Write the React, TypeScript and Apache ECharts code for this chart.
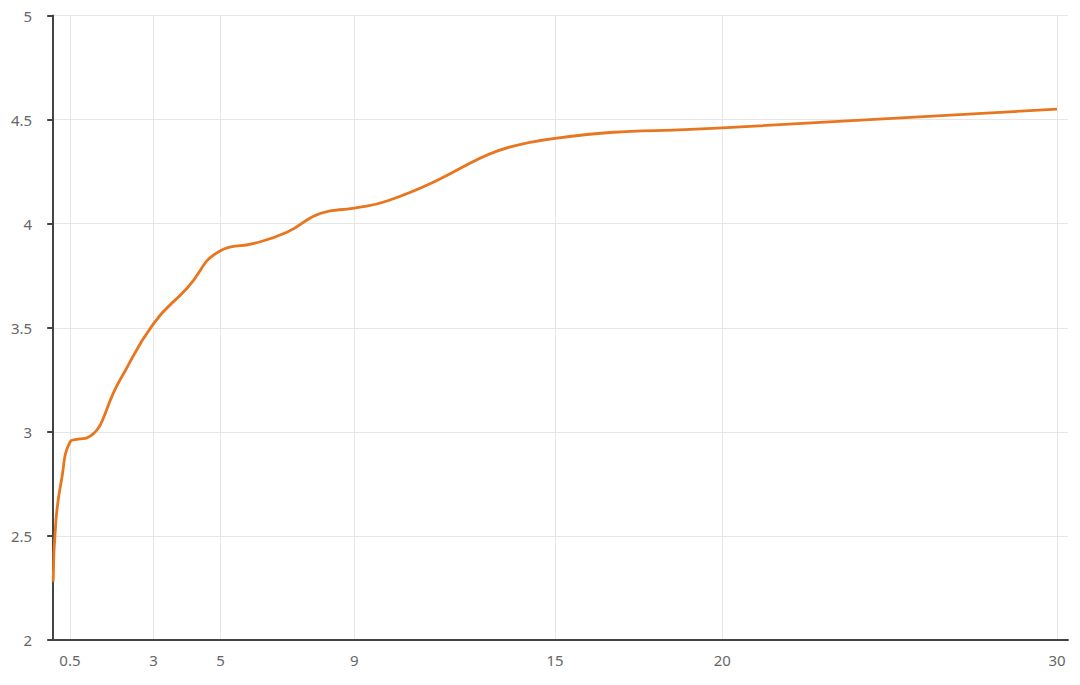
import React, { useEffect, useRef } from "react";
import * as echarts from "echarts";

const tenors = [0, 0.08, 0.25, 0.5, 0.75, 1, 2, 3, 4, 5, 6, 7, 8, 9, 10, 15, 20, 30];
const yields = [2.28, 2.57, 2.77, 2.95, 2.965, 2.97, 3.25, 3.52, 3.69, 3.87, 3.905, 3.96, 4.05, 4.075, 4.11, 4.41, 4.46, 4.55];
const xTickValues = [0.5, 3, 5, 9, 15, 20, 30];

export default function App() {
  const ref = useRef<HTMLDivElement>(null);
  useEffect(() => {
    const chart = echarts.init(ref.current!, null, { renderer: "svg" });
    const data = tenors.map((t, i) => [t, yields[i]]);
    chart.setOption({
      animation: false,
      grid: { left: 45, right: 12, top: 7, bottom: 45, containLabel: false },
      xAxis: {
        type: "value",
        min: 0,
        max: 30.33,
        axisLine: { show: true, lineStyle: { color: "#444", width: 2 } },
        axisTick: { show: false, customValues: xTickValues },
        axisLabel: {
          customValues: xTickValues,
          color: "#666",
          fontSize: 15,
          fontFamily: "Noto Sans",
          margin: 12,
        },
        splitLine: { show: true, lineStyle: { color: "#e6e6e6", width: 1 } },
      },
      yAxis: {
        type: "value",
        min: 2,
        max: 5,
        interval: 0.5,
        axisLine: { show: true, lineStyle: { color: "#444", width: 2 } },
        axisTick: { show: true, length: 6, lineStyle: { color: "#444", width: 2 } },
        axisLabel: { color: "#666", fontSize: 15, fontFamily: "Noto Sans", margin: 21 },
        splitLine: { show: true, lineStyle: { color: "#e6e6e6", width: 1 } },
      },
      series: [
        {
          type: "line",
          data,
          smooth: true,
          showSymbol: false,
          lineStyle: { color: "#E8761F", width: 2.8 },
        },
      ],
    });
    return () => chart.dispose();
  }, []);
  return <div ref={ref} style={{ width: 1072, height: 677 }} />;
}
